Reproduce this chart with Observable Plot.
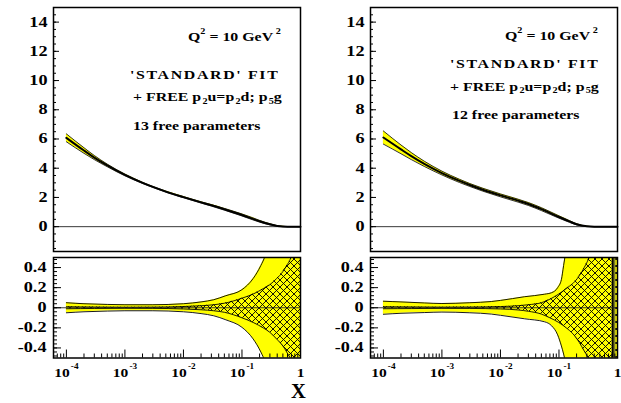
<!DOCTYPE html>
<html><head><meta charset="utf-8">
<script src="https://cdn.jsdelivr.net/npm/d3@7"></script>
<script src="https://cdn.jsdelivr.net/npm/@observablehq/plot@0.6"></script>
<style>
html,body{margin:0;padding:0;background:#fff;overflow:hidden}
#root{position:relative;width:621px;height:403px;}
#root svg{position:absolute;left:0;top:0;}
.ann{position:absolute;font:bold 12.5px "Liberation Serif",serif;white-space:nowrap;line-height:12.5px;transform:scaleX(1.27);transform-origin:0 0;color:#000}
.wide{letter-spacing:1.3px}
.sup{font-size:8px;position:relative;top:-6.5px}
.sub{font-size:8px;position:relative;top:2.5px;margin-left:1px}
.xl{position:absolute;font:bold 20.5px "Liberation Serif",serif;line-height:20.5px;color:#000}
</style></head><body><div id="root"></div>
<script>
// ---------- data ----------
const xTop = [1e-4,2e-4,3e-4,5e-4,1e-3,2e-3,3e-3,5e-3,1e-2,2e-2,3e-2,5e-2,0.1,0.15,0.2,0.3,0.4,0.5,0.6,0.7,0.8,0.9,1];
// 13 free parameters
const gLeft = [6.08,5.21,4.73,4.19,3.54,3.0,2.72,2.4,2.02,1.66,1.46,1.19,0.8,0.55,0.37,0.16,0.05,0.01,0,0,0,0,0];
const eLeft = [0.27,0.19,0.14,0.09,0.06,0.04,0.035,0.035,0.04,0.045,0.05,0.06,0.07,0.07,0.06,0.04,0.02,0.01,0.005,0,0,0,0];
// 12 free parameters
const gRight = [6.1,5.29,4.83,4.3,3.67,3.13,2.85,2.53,2.14,1.78,1.55,1.2,0.66,0.36,0.16,0.02,0,0,0,0,0,0,0];
const eRight = [0.45,0.3,0.24,0.18,0.13,0.11,0.1,0.1,0.1,0.1,0.1,0.1,0.08,0.06,0.04,0.01,0,0,0,0,0,0,0];

// relative uncertainty, left (outer = yellow, inner = hatched)
const xOuterL = [1e-4,2e-4,5e-4,1e-3,3e-3,1e-2,2e-2,3.3e-2,5.3e-2,0.1,0.155,0.21,0.25,0.3,0.5,1];
const outerHiL = [0.05,0.04,0.033,0.03,0.03,0.04,0.058,0.08,0.12,0.18,0.29,0.42,0.52,0.7,1.5,3];
const outerLoL = [-0.05,-0.04,-0.033,-0.03,-0.03,-0.04,-0.058,-0.08,-0.12,-0.195,-0.31,-0.44,-0.54,-0.7,-1.5,-3];
const xInnerL = [1e-4,3e-4,1e-3,3e-3,1e-2,2e-2,3.3e-2,5e-2,0.1,0.16,0.23,0.3,0.39,0.5,0.58,0.7,0.85,1];
const innerHiL = [0.01,0.007,0.005,0.006,0.012,0.02,0.03,0.045,0.095,0.14,0.19,0.23,0.29,0.36,0.42,0.52,0.8,1.5];
const innerLoL = [-0.01,-0.007,-0.005,-0.006,-0.012,-0.02,-0.03,-0.045,-0.1,-0.15,-0.2,-0.245,-0.31,-0.38,-0.44,-0.54,-0.8,-1.5];

// relative uncertainty, right
const xOuterR = [1e-4,2e-4,5e-4,1e-3,3e-3,7e-3,1e-2,2.6e-2,5.7e-2,7.5e-2,9.5e-2,0.11,0.12,0.13,0.2,1];
const outerHiR = [0.065,0.058,0.048,0.042,0.05,0.062,0.073,0.11,0.135,0.15,0.2,0.28,0.42,0.55,1.5,3];
const outerLoR = [-0.065,-0.055,-0.048,-0.043,-0.05,-0.063,-0.075,-0.11,-0.14,-0.18,-0.27,-0.38,-0.46,-0.55,-1.5,-3];
const xInnerR = [1e-4,3e-4,1e-3,3e-3,1e-2,2e-2,3e-2,5e-2,7e-2,0.098,0.14,0.186,0.27,0.35,0.5,1];
const innerHiR = [0.01,0.008,0.006,0.007,0.012,0.02,0.03,0.05,0.085,0.135,0.2,0.26,0.4,0.55,1,2];
const innerLoR = [-0.01,-0.008,-0.006,-0.007,-0.012,-0.022,-0.035,-0.063,-0.1,-0.145,-0.21,-0.28,-0.43,-0.56,-1,-2];
const darkBandR = [{x1:0.8, x2:0.94}];
const darkLineR = [0.83];

// ticks
const yTicksTop = [0,2,4,6,8,10,12,14];
const yTicksBot = [-0.4,-0.2,0,0.2,0.4];
const xTicksMajor = [1e-4,1e-3,1e-2,1e-1,1];
const xTickLabels = ["10^-4","10^-3","10^-2","10^-1","1"];

// ---------- drawing ----------
const W = 621, H = 403;
const ns = "http://www.w3.org/2000/svg";
const YELLOW = "#ffff00";
const curve = "monotone-x";
const FONT = "'Liberation Serif', 'Times New Roman', serif";
const xDomain = [Math.pow(10,-4.22), 1];
const yDomTop = [-1.7, 15], yDomBot = [-0.5, 0.5];
const yMinorTop = d3.range(-3, 31).map(i => i*0.5).filter(v => v >= yDomTop[0] && v <= yDomTop[1]);
const yMinorBot = d3.range(-12, 13).map(i => +(i*0.04).toFixed(2));
const xMinor = [];
for (let k = -5; k <= -1; k++) for (let m = 2; m <= 9; m++) { const v = m*Math.pow(10,k); if (v >= xDomain[0] && v <= 1) xMinor.push(v); }

const baseStyle = {background:"transparent", fontFamily:FONT, fontSize:"14px", fontWeight:"bold", color:"black", overflow:"visible"};
const lab = {fontFamily:FONT, fontWeight:"bold", label:null};

function post(svg) {
  svg.querySelectorAll('g[aria-label$="tick label"] text').forEach(t => {
    const isX = !!t.closest('g[aria-label^="x-axis"]');
    const m = /^10\^(-?\d+)$/.exec(t.textContent);
    if (m) {
      t.textContent = "10";
      const ts = document.createElementNS(ns, "tspan");
      ts.setAttribute("dy", "-8");
      ts.setAttribute("dx", "1");
      ts.setAttribute("font-size", "8");
      ts.style.fontSize = "8px";
      ts.textContent = m[1];
      t.appendChild(ts);
    }
    t.setAttribute("font-size", isX ? "13.5" : "14");
    t.style.fontSize = isX ? "13.5px" : "14px";
    t.style.fontWeight = "bold";
    t.style.fontFamily = FONT;
    const s = isX ? 1.15 : 1.3;
    t.setAttribute("transform", (t.getAttribute("transform") || "") + ` scale(${s},1)`);
  });
  return svg;
}

function topPanel(ml, mr, g, e) {
  const rows = xTop.map((x,i) => ({x, g:g[i], lo:g[i]-e[i], hi:g[i]+e[i]}));
  return Plot.plot({
    width:W, height:H, marginLeft:ml, marginRight:mr, marginTop:7, marginBottom:152,
    style: baseStyle,
    x: {type:"log", domain:xDomain, axis:null},
    y: {domain:yDomTop, label:null},
    marks: [
      Plot.areaY(rows, {x:"x", y1:"lo", y2:"hi", fill:YELLOW, curve}),
      Plot.line(rows, {x:"x", y:"hi", stroke:"black", strokeWidth:0.8, curve}),
      Plot.line(rows, {x:"x", y:"lo", stroke:"black", strokeWidth:0.8, curve}),
      Plot.ruleY([0], {stroke:"#222", strokeWidth:0.9}),
      Plot.line(rows, {x:"x", y:"g", stroke:"black", strokeWidth:2, curve}),
      Plot.axisY(yMinorTop, {anchor:"left", tickSize:-3, fill:"none", label:null}),
      Plot.axisY(yTicksTop, {anchor:"left", tickSize:-6, fill:"none", label:null}),
      Plot.axisY(yTicksTop, {...lab, anchor:"left", tickSize:0, tickPadding:6, fontSize:14, tickFormat:d => String(d)}),
      Plot.frame({stroke:"black", strokeWidth:1.5})
    ]
  });
}

function botPanel(ml, mr, xo, ohi, olo, xi, ihi, ilo, patId, extra) {
  const outer = xo.map((x,i) => ({x, hi:ohi[i], lo:olo[i]}));
  const inner = xi.map((x,i) => ({x, hi:ihi[i], lo:ilo[i]}));
  const svg = Plot.plot({
    width:W, height:H, marginLeft:ml, marginRight:mr, marginTop:257, marginBottom:45.5,
    style: baseStyle,
    x: {type:"log", domain:xDomain, label:null},
    y: {domain:yDomBot, label:null},
    marks: [
      Plot.areaY(outer, {x:"x", y1:"lo", y2:"hi", fill:YELLOW, curve, clip:true}),
      Plot.line(outer, {x:"x", y:"hi", stroke:"black", strokeWidth:0.9, curve, clip:true}),
      Plot.line(outer, {x:"x", y:"lo", stroke:"black", strokeWidth:0.9, curve, clip:true}),
      Plot.areaY(inner, {x:"x", y1:"lo", y2:"hi", fill:`url(#${patId})`, curve, clip:true}),
      Plot.line(inner, {x:"x", y:"hi", stroke:"black", strokeWidth:0.9, curve, clip:true}),
      Plot.line(inner, {x:"x", y:"lo", stroke:"black", strokeWidth:0.9, curve, clip:true}),
      ...extra,
      Plot.ruleY([0], {stroke:"#222", strokeWidth:0.9}),
      Plot.axisY(yMinorBot, {anchor:"left", tickSize:-4, fill:"none", label:null}),
      Plot.axisY(yTicksBot, {anchor:"left", tickSize:-8, fill:"none", label:null}),
      Plot.axisY(yTicksBot, {...lab, anchor:"left", tickSize:0, tickPadding:7, fontSize:14, tickFormat:d => d === 0 ? "0" : d.toFixed(1)}),
      Plot.axisX(xMinor, {anchor:"bottom", tickSize:-4, fill:"none", label:null}),
      Plot.axisX(xTicksMajor, {anchor:"bottom", tickSize:-8, fill:"none", label:null}),
      Plot.axisX(xTicksMajor, {...lab, anchor:"bottom", tickSize:0, tickPadding:9, fontSize:13.5, tickFormat:d => xTickLabels[xTicksMajor.indexOf(d)]}),
      Plot.frame({stroke:"black", strokeWidth:1.5})
    ]
  });
  const defs = document.createElementNS(ns, "defs");
  defs.innerHTML = `<pattern id="${patId}" patternUnits="userSpaceOnUse" width="7" height="7"><path d="M0,0L7,7M7,0L0,7M-1,6L1,8M6,-1L8,1" stroke="black" stroke-width="0.9" fill="none"/></pattern>`;
  svg.insertBefore(defs, svg.firstChild);
  return svg;
}

const root = document.getElementById("root");
const svgs = [
  topPanel(53, 321, gLeft, eLeft),
  topPanel(370, 4, gRight, eRight),
  botPanel(53, 321, xOuterL, outerHiL, outerLoL, xInnerL, innerHiL, innerLoL, "hatchL", []),
  botPanel(370, 4, xOuterR, outerHiR, outerLoR, xInnerR, innerHiR, innerLoR, "hatchR", [
    Plot.rect(darkBandR, {x1:"x1", x2:"x2", fill:"#7d7d2a", clip:true}),
    Plot.ruleX(darkLineR, {stroke:"black", strokeWidth:1.5})
  ])
];
svgs.forEach(s => { root.appendChild(s); post(s); });

// annotations
const anns = [
  [188, 41, 'Q<span class="sup">2</span> = 10 GeV<span class="sup" style="margin-left:2px">2</span>', ""],
  [130, 79.5, "'STANDARD' FIT", "wide"],
  [133, 101.5, '+ FREE p<span class="sub">2</span>u=p<span class="sub">2</span>d; p<span class="sub">5</span>g', ""],
  [133, 130, '13 free parameters', ""],
  [505, 40, 'Q<span class="sup">2</span> = 10 GeV<span class="sup" style="margin-left:2px">2</span>', ""],
  [450, 68.5, "'STANDARD' FIT", "wide"],
  [450, 91, '+ FREE p<span class="sub">2</span>u=p<span class="sub">2</span>d; p<span class="sub">5</span>g', ""],
  [452, 119, '12 free parameters', ""]
];
for (const [x, base, html, cls] of anns) {
  const d = document.createElement("div");
  d.className = "ann " + cls;
  d.style.left = x + "px";
  d.style.top = (base - 10.47) + "px";
  d.innerHTML = html;
  root.appendChild(d);
}
const xl = document.createElement("div");
xl.className = "xl";
xl.style.left = "291px";
xl.style.top = (398.5 - 0.8375*20.5) + "px";
xl.textContent = "X";
root.appendChild(xl);
</script></body></html>
